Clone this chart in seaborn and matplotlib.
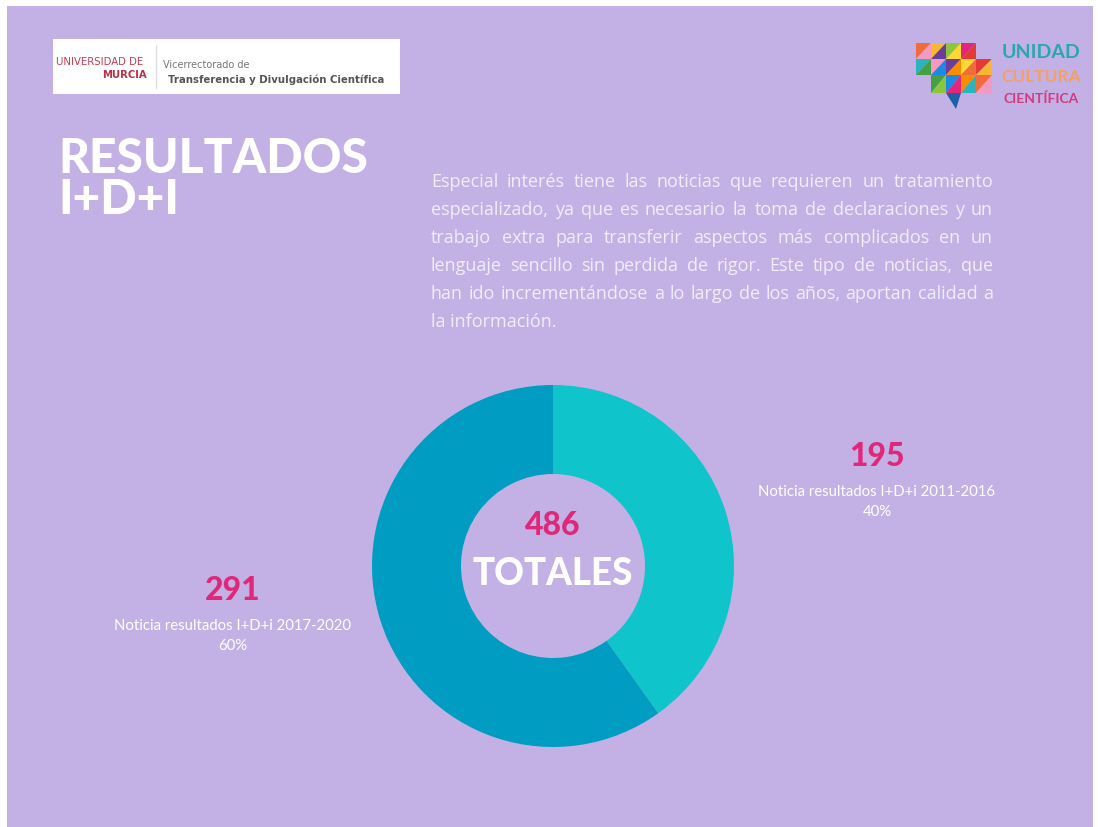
import matplotlib
matplotlib.use("Agg")
import matplotlib.pyplot as plt
import seaborn as sns
from matplotlib.patches import Rectangle, Polygon

# ── Data ──────────────────────────────────────────────────────────────────────
periods = ["2011-2016", "2017-2020"]
counts = [195, 291]
shares = ["40%", "60%"]
total = 486
seg_colors = ["#10C4CC", "#009CC1"]

title_lines = ["RESULTADOS", "I+D+I"]
paragraph = [
    "Especial interés tiene las noticias que requieren un tratamiento",
    "especializado, ya que es necesario la toma de declaraciones y un",
    "trabajo extra para transferir aspectos más complicados en un",
    "lenguaje sencillo sin perdida de rigor. Este tipo de noticias, que",
    "han ido incrementándose a lo largo de los años, aportan calidad a",
    "la información.",
]

BG = "#C3B1E6"
PINK = "#E0287A"
W, H = 1098, 828

sns.set_theme(style="white")
plt.rcParams["font.family"] = ["Lato", "DejaVu Sans"]

fig = plt.figure(figsize=(W / 100, H / 100), dpi=100)
fig.patch.set_facecolor("white")

# overlay in pixel coordinates
bg = fig.add_axes([0, 0, 1, 1])
bg.set_xlim(0, W)
bg.set_ylim(H, 0)
bg.axis("off")
bg.add_patch(Rectangle((7, 7), 1086, 822, facecolor=BG, edgecolor="none"))

# ── Left logo ────────────────────────────────────────────────────────────────
bg.add_patch(Rectangle((53, 40), 347, 55, facecolor="white", edgecolor="none"))
bg.plot([156, 156], [46, 89], color="#DDDDDD", lw=1)
bg.text(56, 62, "UNIVERSIDAD DE", color="#C23A55", fontsize=7.3,
        family=["DejaVu Sans"], va="center", ha="left")
bg.text(147, 75, "MURCIA", color="#B8304A", fontsize=7.3, fontweight="bold",
        family=["DejaVu Sans"], va="center", ha="right")
bg.text(163, 65, "Vicerrectorado de", color="#777777", fontsize=7,
        family=["DejaVu Sans"], va="center", ha="left")
bg.text(168, 80, "Transferencia y Divulgación Científica", color="#555555",
        fontsize=7.3, fontweight="bold", family=["DejaVu Sans"], va="center", ha="left")

# ── Right logo: polygonal brain + text ─────────────────────────────────────────
brain_colors = ["#F26B3A", "#F7B733", "#8CC63F", "#E2267A", "#2BB3C0", "#F49AC1",
                "#6A3D9A", "#FDD835", "#E53935", "#43A047", "#1E88E5", "#FB8C00"]
xs = [916, 931, 946, 961, 976, 992]
ys = [44, 60, 76, 94]
k = 0
for j in range(len(ys) - 1):
    for i in range(len(xs) - 1):
        if (j == 2 and i == 0) or (j == 0 and i == 4):
            continue
        x0, x1, y0, y1 = xs[i], xs[i + 1], ys[j], ys[j + 1]
        bg.add_patch(Polygon([(x0, y0), (x1, y0), (x0, y1)],
                             facecolor=brain_colors[k % 12], edgecolor="none"))
        bg.add_patch(Polygon([(x1, y0), (x1, y1), (x0, y1)],
                             facecolor=brain_colors[(k + 5) % 12], edgecolor="none"))
        k += 1
bg.add_patch(Polygon([(946, 94), (961, 94), (956, 110)], facecolor="#1E5FA8", edgecolor="none"))
bg.text(1041, 52, "UNIDAD", color="#2AA6AE", fontsize=14, fontweight="bold",
        va="center", ha="center")
bg.text(1041, 77, "CULTURA", color="#F2A065", fontsize=12.5, fontweight="bold",
        va="center", ha="center")
bg.text(1041, 99, "CIENTÍFICA", color="#D43A80", fontsize=10, fontweight="bold",
        va="center", ha="center")

# ── Title ──────────────────────────────────────────────────────────────────────
for i, line in enumerate(title_lines):
    bg.text(58, 159 + i * 41, line, color="white", fontsize=34.5, fontweight="black",
            va="center", ha="left")

# ── Justified paragraph ────────────────────────────────────────────────────────
fig.canvas.draw()
renderer = fig.canvas.get_renderer()
left, right = 431, 993
para_kw = dict(color="#F1ECFA", fontsize=13, family=["Open Sans", "DejaVu Sans"],
               va="center", ha="left")
for n, line in enumerate(paragraph):
    y = 182 + n * 28
    words = line.split()
    if n == len(paragraph) - 1:
        bg.text(left, y, line, **para_kw)
        continue
    txts = [bg.text(0, y, w, **para_kw) for w in words]
    widths = [t.get_window_extent(renderer).width for t in txts]
    gap = (right - left - sum(widths)) / (len(words) - 1)
    x = left
    for t, w in zip(txts, widths):
        t.set_x(x)
        x += w + gap

# ── Donut ──────────────────────────────────────────────────────────────────────
cx, cy, r = 553, 567, 181
ax = fig.add_axes([(cx - r) / W, (H - cy - r) / H, 2 * r / W, 2 * r / H])
ax.pie(counts, colors=seg_colors, startangle=90, counterclock=False, radius=1,
       wedgeprops=dict(width=1 - 92 / 181, edgecolor="none"))
ax.set_xlim(-1, 1)
ax.set_ylim(-1, 1)
ax.axis("off")

bg.text(cx, 526, str(total), color=PINK, fontsize=23, fontweight="black",
        va="center", ha="center")
bg.text(cx, 574, "TOTALES", color="white", fontsize=26.5, fontweight="black",
        va="center", ha="center")

# ── Labels ─────────────────────────────────────────────────────────────────────
label_pos = [(877, 457), (233, 591)]
for (lx, ly), period, cnt, share in zip(label_pos, periods, counts, shares):
    bg.text(lx, ly, str(cnt), color=PINK, fontsize=23, fontweight="black",
            va="center", ha="center")
    bg.text(lx, ly + 35, f"Noticia resultados I+D+i {period}", color="white",
            fontsize=10.7, va="center", ha="center")
    bg.text(lx, ly + 55, share, color="white", fontsize=10.7, va="center", ha="center")

fig.savefig("out.png", dpi=100, facecolor=fig.get_facecolor())
